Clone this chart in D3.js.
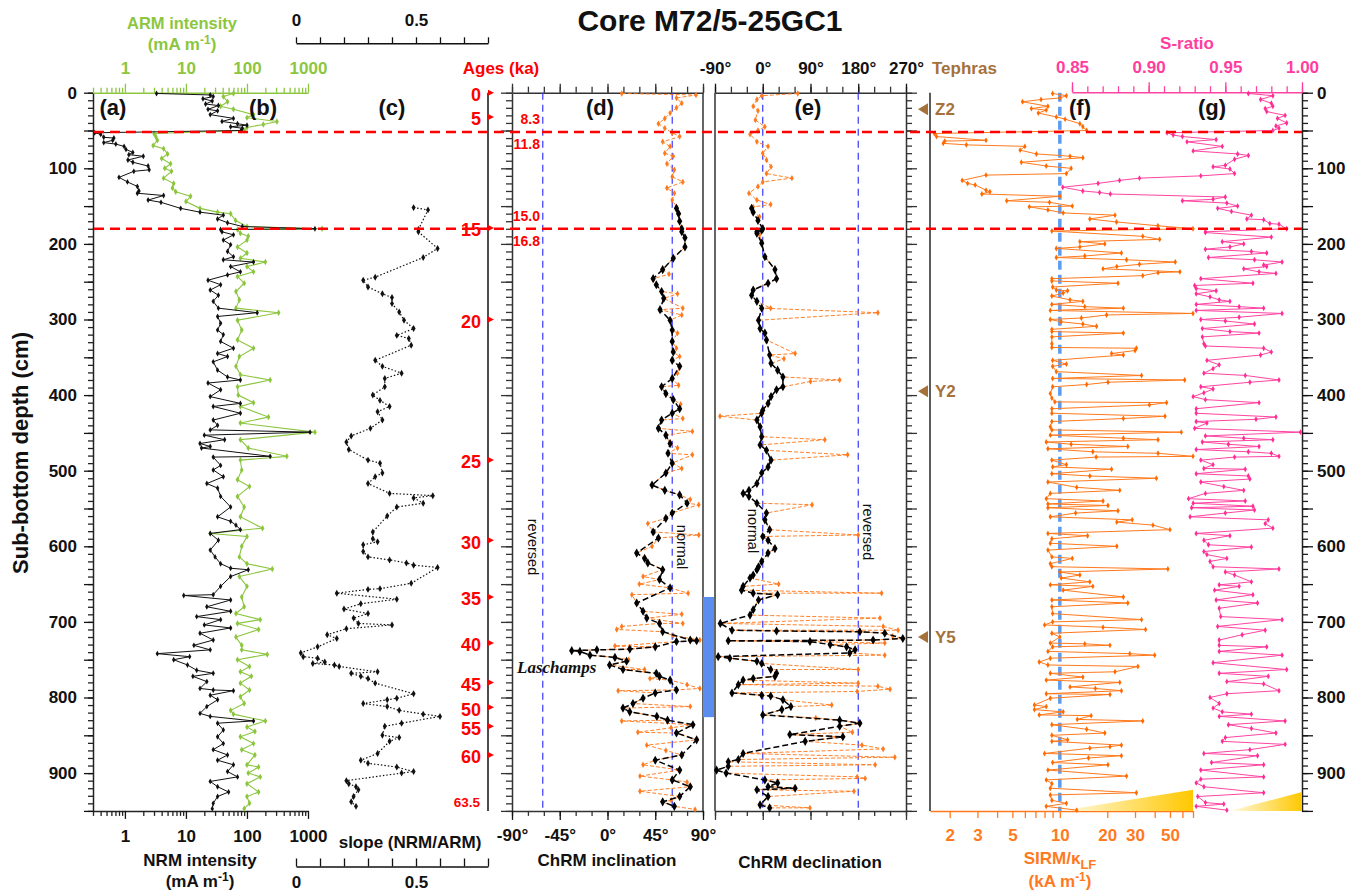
<!DOCTYPE html>
<html><head><meta charset="utf-8">
<script src="https://cdn.jsdelivr.net/npm/d3@7"></script>
<style>body{margin:0;background:#fff}</style>
</head><body>
<svg id="chart" width="1360" height="892"></svg>
<script>
// ---------------- DATA (depth cm, value) ----------------
const depthTicks = [0,100,200,300,400,500,600,700,800,900];
const abTicks = [1,10,100,1000];
const slopeTicks = [0,0.5];
const incTicks = [-90,-45,0,45,90];
const decTicks = [-90,0,90,180,270];
const sirmTicks = [2,3,5,10,20,30,50];
const sratioTicks = [0.85,0.90,0.95,1.00];
const ageLabels = [0,5,15,20,25,30,35,40,45,50,55,60];
const ageDepths = [0,32,179,300,486,592,667,728,780,813,838,876];
const boundaryDepths = [52,180];
const boundaryAgeAbove = ["8.3","15.0"];
const boundaryAgeBelow = ["11.8","16.8"];
const tephraNames = ["Z2","Y2","Y5"];
const tephraDepths = [22,395,720];
const laschampsRange = [667,826];
const gadInc = [-61,61];
const gadDec = [0,180];

const nrm = [[1,3.3],[3,25],[5,28],[8,19],[11,27],[15,21],[17,34],[22,23],[24,33],[29,25],[34,60],[38,39],[41,70],[43,100],[45,54],[47,84],[50,80],[53,0.32],[55,0.4],[59,0.45],[60,0.66],[63,0.63],[66,0.45],[68,0.71],[71,0.97],[75,1.04],[79,1.35],[82,1.16],[84,2.0],[89,1.12],[92,1.35],[97,2.4],[102,2.5],[104,1.4],[112,0.8],[118,1.1],[124,1.6],[130,1.7],[133,1.6],[136,4.3],[142,2.4],[145,3.9],[153,8.2],[158,17],[162,41],[167,33],[172,48],[177,84],[180,1300],[181,37],[184,39],[188,60],[195,41],[201,54],[210,48],[217,60],[221,41],[224,128],[230,54],[237,78],[241,48],[248,23],[254,37],[261,25],[268,34],[276,28],[285,34],[291,147],[296,33],[305,37],[314,33],[320,41],[329,37],[338,60],[345,33],[349,48],[356,28],[367,33],[376,48],[380,78],[384,23],[393,37],[402,25],[411,78],[415,28],[424,78],[433,28],[440,33],[446,25],[449,1080],[453,20],[459,43],[464,17],[468,25],[470,18],[481,240],[482,28],[493,37],[499,28],[508,41],[517,22],[523,33],[534,37],[548,54],[561,33],[567,54],[572,66],[578,78],[583,25],[592,34],[605,25],[614,30],[623,37],[629,54],[631,105],[640,54],[653,37],[664,28],[665,9.2],[671,54],[680,22],[686,54],[693,15],[697,37],[704,20],[708,54],[715,17],[724,28],[731,13.5],[737,25],[742,3.4],[746,11.5],[750,6.3],[757,10.6],[764,15],[768,28],[772,13],[779,22],[788,17],[790,28],[791,60],[797,25],[803,33],[812,22],[821,17],[825,25],[831,128],[834,33],[843,41],[852,33],[861,41],[869,28],[876,48],[883,33],[889,60],[898,48],[905,70],[911,25],[918,33],[925,50],[931,33],[940,28],[947,27]];

const arm = [[1,60],[5,41],[12,48],[18,37],[22,60],[29,128],[33,100],[38,310],[42,185],[46,100],[50,90],[54,3.0],[58,3.2],[63,3.4],[70,2.9],[74,4.3],[81,5.0],[87,4.0],[94,5.6],[100,4.5],[104,5.8],[113,4.3],[120,6.3],[126,6.0],[131,6.8],[137,11.9],[144,10],[153,17],[158,33],[160,54],[169,65],[177,100],[180,1700],[181,70],[186,78],[190,105],[195,100],[204,70],[212,100],[219,78],[224,200],[230,100],[237,128],[243,70],[252,90],[263,66],[274,75],[285,66],[291,330],[301,70],[314,82],[327,70],[338,128],[349,75],[362,66],[373,78],[380,240],[389,70],[400,72],[410,128],[415,78],[429,225],[437,78],[449,1300],[459,78],[470,105],[481,450],[486,78],[499,82],[512,70],[521,110],[534,70],[548,90],[561,78],[576,180],[583,25],[587,100],[600,82],[614,75],[623,100],[630,260],[640,75],[653,100],[667,82],[680,90],[689,66],[697,165],[702,70],[710,155],[720,66],[731,82],[737,82],[743,215],[750,70],[759,110],[766,78],[772,118],[781,78],[790,110],[799,78],[808,90],[817,54],[822,60],[831,200],[839,100],[845,135],[852,78],[861,128],[869,82],[876,135],[889,100],[892,155],[900,105],[905,165],[914,100],[925,155],[931,100],[940,110],[947,90]];

const slope = [[152,0.49],[155,0.55],[181,0.51],[184,0.51],[206,0.59],[218,0.53],[244,0.33],[248,0.28],[257,0.30],[266,0.36],[271,0.40],[279,0.40],[290,0.43],[301,0.45],[312,0.49],[321,0.42],[325,0.47],[334,0.48],[354,0.33],[362,0.36],[371,0.44],[378,0.37],[389,0.37],[400,0.32],[407,0.35],[415,0.39],[422,0.34],[433,0.36],[444,0.31],[454,0.23],[462,0.21],[472,0.22],[486,0.30],[490,0.35],[503,0.36],[508,0.33],[517,0.30],[530,0.39],[533,0.57],[536,0.49],[543,0.53],[548,0.42],[560,0.38],[581,0.32],[590,0.32],[594,0.34],[598,0.28],[607,0.28],[614,0.30],[618,0.39],[622,0.46],[625,0.49],[628,0.59],[649,0.48],[656,0.35],[657,0.30],[662,0.17],[670,0.42],[676,0.27],[683,0.20],[689,0.30],[695,0.24],[702,0.26],[704,0.40],[709,0.21],[717,0.13],[722,0.17],[733,0.09],[741,0.02],[746,0.03],[748,0.09],[753,0.12],[755,0.07],[757,0.16],[759,0.18],[766,0.34],[768,0.23],[772,0.27],[775,0.30],[781,0.33],[795,0.49],[801,0.42],[803,0.38],[808,0.28],[812,0.38],[817,0.43],[822,0.53],[825,0.60],[834,0.44],[838,0.37],[850,0.36],[853,0.43],[858,0.39],[874,0.34],[883,0.27],[887,0.30],[892,0.42],[898,0.49],[900,0.44],[910,0.21],[914,0.22],[918,0.25],[922,0.26],[931,0.24],[938,0.23],[944,0.25]];

const incSelected = [[153,65],[160,67],[170,68],[180,70],[184,70],[192,73],[204,73],[219,62],[234,52],[246,43],[254,46],[263,51],[272,53],[287,49.5],[301,59],[314,61],[329,61],[343,62],[354,61],[362,68],[378,61],[389,51],[398,55],[406,62],[418,68],[424,61],[433,51],[444,48],[453,55],[464,59],[477,57],[490,61],[503,55],[519,42],[526,54],[532,68],[543,75],[556,61],[563,55],[581,43],[589,48],[609,27.5],[616,35],[622,38],[631,52],[644,49],[655,59],[675,27.5],[686,33.5],[695,37],[702,49],[713,52],[724,78],[725,84],[726,65],[733,45],[736,21],[737,-10],[738,-33.7],[739,-26],[744,-16.5],[747,7],[752,18],[757,2],[763,14.6],[768,46],[772,49],[777,59],[790,65],[794,45],[801,33.5],[808,24],[814,14.6],[819,21],[825,46.5],[830,56.6],[836,80.5],[847,65],[856,84],[876,70],[883,45],[896,68],[909,61],[918,78],[931,68],[938,52],[944,63]];
const incOther = [[1,13.4],[3,83.4],[7,65],[14,70],[20,65],[27,59],[34,54],[41,48],[47,54],[53,61],[58,68],[65,52],[71,59],[80,54],[84,62],[94,56],[102,63],[111,61],[118,71],[126,56],[133,63],[142,61],[151,65],[240,58],[266,66],[285,71],[294,70],[318,66],[338,65],[349,68],[371,66],[387,67],[412,69],[431,71],[448,80],[470,66],[479,80],[497,70],[538,78],[545,86],[570,38],[585,86],[600,42],[640,33.5],[650,30],[662,76],[664,23],[690,70],[702,71],[706,13.4],[710,8.7],[718,62],[724,87],[732,7],[750,20],[763,35],[775,40],[783,75],[788,87],[791,10],[812,78],[831,13.4],[840,60],[846,28.6],[863,37],[870,55],[889,33.5],[904,30.6],[912,75],[924,30.6],[936,60],[948,82.5]];

const decSelected = [[153,-21],[158,-18],[169,-9],[180,0],[182,-2],[184,-11],[186,-11],[199,-2],[217,4],[234,23],[246,26],[252,10],[261,-18],[268,-21],[276,-11],[285,-2],[301,-8],[312,-5],[318,4],[327,7],[347,13],[358,15.6],[367,28],[376,38],[389,38],[393,26],[402,15.6],[411,10],[420,0],[424,-2],[433,-11],[442,-5],[455,-2],[466,-5],[473,7],[486,15.6],[495,10],[503,-2],[517,-11],[526,-26],[530,-37],[534,-26],[543,-11],[556,7],[565,4],[578,13],[587,0],[592,10],[603,23],[609,10],[620,-2],[627,-8],[631,-11],[638,-18],[642,-24],[653,-37],[658,-40],[662,-18],[664,28],[671,-8],[684,-18],[691,-24],[702,-80],[711,-58],[712,26],[713,183],[715,230],[722,264],[724,208],[725,-65],[726,89],[730,127],[733,158],[737,174],[741,164],[746,-84],[748,-62],[752,-11],[755,-2],[763,15],[768,26],[772,23],[775,-18],[777,-37],[783,-46],[794,-58],[797,-2],[798,15],[803,38],[812,53],[816,36],[823,0],[830,145],[834,183],[838,145],[849,51],[852,151],[858,80],[874,-37],[882,-46],[885,-65],[891,-65],[896,-87],[900,-69],[909,4],[913,28],[918,10],[920,61],[922,-11],[931,10],[942,-5],[946,13]];
const decOther = [[1,66],[4,-2],[9,-11],[18,-18],[24,-9],[36,-14],[45,4],[50,-9],[55,-24],[65,-11],[71,10],[80,0],[89,7],[98,15.6],[107,7],[113,55],[118,0],[124,-9],[133,-26],[142,-11],[148,15],[151,-18],[164,-6],[188,-6],[285,15],[291,217],[345,61],[352,40],[380,145],[382,90],[428,-80.6],[459,117],[479,160],[545,93],[585,180],[650,30],[662,224],[695,221],[706,227],[711,255],[719,245],[728,230],[744,230],[763,180],[781,180],[785,217],[789,240],[792,178],[810,130],[827,100],[846,169],[863,187],[868,227],[879,249],[889,212],[905,178],[907,193],[924,172],[946,89]];

const sirm = [[1,9.0],[4,11],[7,10],[9,7.6],[12,5.8],[18,8.4],[21,6.6],[23,8.2],[27,7.3],[32,9.5],[35,10.8],[41,13.4],[45,14],[50,14.8],[54,1.6],[58,1.65],[63,3.4],[64,1.86],[67,1.82],[69,2.55],[71,6.0],[76,5.6],[81,7.1],[84,11.6],[86,14],[92,5.7],[97,8.2],[100,11.8],[107,11],[109,3.4],[116,2.4],[120,2.6],[122,2.9],[129,3.4],[131,3.6],[134,3.2],[137,10],[143,4.6],[145,8.6],[150,12],[151,6.4],[155,8.4],[159,10.5],[162,22.4],[167,15.5],[171,22.9],[176,41.9],[180,70],[183,8.9],[190,33.6],[194,43],[197,13.4],[200,19.3],[204,13.4],[206,9.5],[212,24.6],[216,14.4],[218,9.5],[221,26.5],[224,54],[227,32],[230,23],[233,18.8],[237,57.8],[238,42],[242,33.6],[246,8.9],[249,8.9],[252,23.4],[257,9.0],[261,9.5],[262,11.2],[265,10.5],[269,8.9],[274,11.6],[276,14],[280,8.9],[283,14.4],[285,25.3],[288,8.7],[292,70],[294,19.8],[298,13.7],[300,8.7],[303,10.2],[306,14],[309,17.1],[313,8.9],[316,8.9],[318,25.3],[323,8.9],[332,8.9],[337,8.9],[338,30.6],[341,30],[345,21.3],[347,25.3],[354,9.0],[359,11],[362,9],[369,9.5],[374,33],[378,9.0],[380,62],[383,20.2],[386,14.8],[389,9],[398,8.7],[404,8.9],[409,9.3],[410,47.6],[413,37],[418,8.9],[424,8.9],[428,46.5],[431,25.3],[435,8.9],[442,8.7],[446,8.9],[449,59],[453,8.7],[457,25.3],[459,42],[462,8.2],[465,11.8],[468,27],[471,8.4],[475,16.2],[477,42],[481,70],[482,17],[486,8.9],[492,11],[495,9],[498,21.3],[504,8.9],[507,15.5],[510,41],[515,8.4],[522,12.8],[526,24],[530,8.7],[537,8.2],[540,18.8],[544,8.4],[546,20.2],[549,8.4],[553,23.4],[556,12.6],[561,8.7],[565,28.8],[568,23],[572,39],[578,50],[583,8.4],[586,15],[590,8.9],[596,8.7],[600,23],[605,8.4],[614,8.9],[616,12],[623,8.7],[627,8.9],[630,48.5],[634,10],[638,13.4],[642,10.2],[647,15.5],[651,8.7],[653,16.2],[658,10.5],[667,25.3],[671,8.9],[675,27],[680,8.9],[689,9],[697,33],[700,9],[704,8.0],[707,18.8],[710,35],[715,8.9],[720,10],[728,8.7],[729,14.4],[731,20.8],[733,9],[739,8.4],[742,27.8],[744,40],[748,8.7],[753,7.4],[757,8.4],[759,31.3],[766,22.4],[768,8.7],[773,14],[777,8.2],[780,24],[786,11.6],[788,16.8],[791,24.6],[795,8.2],[796,20.8],[801,8.7],[810,6.9],[812,8.2],[816,6.9],[819,10.5],[823,7.4],[824,15.8],[829,12.9],[831,33.6],[836,8.9],[842,14.8],[847,19.3],[850,8.9],[856,11.2],[858,8.9],[863,24.6],[865,20.8],[867,15.5],[874,8.0],[877,24.6],[880,15.2],[886,9],[889,20.2],[896,8.4],[904,26.5],[909,8.2],[914,8.9],[920,8.7],[926,30.6],[929,8.7],[936,8.9],[940,11],[944,8.2],[949,12.8]];

const sratio = [[1,0.965],[4,0.981],[9,0.973],[14,0.980],[18,0.981],[21,0.976],[25,0.977],[30,0.989],[34,0.984],[40,0.990],[44,0.983],[47,0.985],[50,0.981],[53,0.912],[56,0.916],[58,0.922],[62,0.944],[65,0.925],[71,0.948],[77,0.929],[81,0.958],[83,0.965],[88,0.956],[96,0.950],[98,0.942],[101,0.953],[107,0.956],[110,0.934],[113,0.894],[116,0.881],[120,0.867],[125,0.844],[130,0.857],[132,0.868],[134,0.875],[138,0.950],[141,0.942],[143,0.922],[146,0.951],[150,0.958],[153,0.945],[157,0.954],[162,0.967],[167,0.964],[168,0.975],[173,0.979],[174,0.985],[180,0.990],[184,0.937],[185,0.937],[191,0.980],[197,0.948],[200,0.962],[204,0.953],[207,0.937],[210,0.967],[212,0.977],[218,0.939],[221,0.969],[224,0.987],[228,0.975],[230,0.977],[233,0.962],[237,0.972],[239,0.983],[246,0.934],[252,0.968],[255,0.930],[259,0.931],[262,0.944],[266,0.931],[270,0.940],[274,0.946],[276,0.953],[280,0.931],[283,0.959],[285,0.975],[288,0.931],[292,0.987],[297,0.959],[300,0.934],[302,0.950],[306,0.969],[312,0.935],[316,0.953],[318,0.972],[323,0.935],[332,0.936],[335,0.937],[338,0.975],[343,0.980],[347,0.973],[354,0.938],[360,0.946],[365,0.942],[371,0.936],[374,0.963],[380,0.985],[383,0.966],[389,0.934],[392,0.942],[397,0.936],[402,0.929],[406,0.937],[410,0.972],[418,0.931],[424,0.931],[429,0.983],[432,0.970],[435,0.931],[437,0.938],[444,0.930],[449,0.999],[454,0.937],[457,0.962],[459,0.981],[462,0.935],[465,0.952],[468,0.972],[472,0.931],[475,0.965],[477,0.980],[481,0.985],[482,0.956],[486,0.934],[492,0.942],[497,0.936],[498,0.963],[504,0.931],[507,0.965],[511,0.966],[515,0.934],[521,0.949],[526,0.962],[530,0.937],[537,0.926],[540,0.963],[543,0.929],[547,0.968],[549,0.928],[552,0.969],[556,0.950],[561,0.927],[565,0.978],[570,0.976],[576,0.981],[583,0.931],[586,0.953],[592,0.936],[598,0.939],[601,0.967],[607,0.936],[611,0.938],[616,0.951],[620,0.940],[627,0.942],[630,0.985],[634,0.950],[638,0.956],[647,0.967],[651,0.946],[653,0.959],[658,0.943],[664,0.968],[671,0.944],[675,0.971],[682,0.946],[693,0.947],[697,0.987],[706,0.945],[711,0.976],[717,0.961],[724,0.946],[731,0.946],[733,0.977],[739,0.946],[744,0.987],[754,0.942],[763,0.990],[768,0.946],[772,0.978],[779,0.951],[782,0.975],[791,0.985],[795,0.951],[800,0.940],[808,0.946],[814,0.942],[819,0.948],[822,0.967],[825,0.946],[831,0.989],[836,0.952],[841,0.967],[847,0.983],[853,0.950],[858,0.948],[862,0.989],[869,0.966],[874,0.936],[877,0.971],[886,0.941],[889,0.975],[896,0.934],[905,0.975],[908,0.934],[913,0.931],[918,0.936],[926,0.975],[931,0.932],[939,0.937],[941,0.949],[944,0.931],[949,0.951]];

// gradient wedges at the base of (f) and (g): [left value, right value, top depth]
const wedgeF = [10,70,922];
const wedgeG = [0.953,1.0,925];

// ---------------- DRAWING ----------------
const FONT = '"Liberation Sans", Arial, Helvetica, sans-serif';
const C = {green:"#8cc63f", orange:"#ff7a1e", pink:"#ff45a2", pinkText:"#ff3d9e", red:"#ff0000", brown:"#a5713b", blue:"#3838ff", bar:"#5b8def", blueF:"#5b9cf2"};
const svg = d3.select("#chart").attr("font-family", FONT);

const y = d3.scaleLinear([0,950],[92.7,810.9]);
const xAB = d3.scaleLog([0.3,1000],[93,308]);
const xSlope = d3.scaleLinear([0,0.8],[296,488]);
const xInc = d3.scaleLinear([-90,90],[512,703]);
const xDec = d3.scaleLinear([-90,270],[715,906]);
const xSirm = d3.scaleLog([1.5,70],[930,1193]);
const xS = d3.scaleLinear([0.85,1.0],[1072,1302]);

const defs = svg.append("defs");
const grad = defs.append("linearGradient").attr("id","gold").attr("x1","0").attr("x2","1").attr("y1","0").attr("y2","0");
grad.append("stop").attr("offset","0%").attr("stop-color","#fffbe6");
grad.append("stop").attr("offset","100%").attr("stop-color","#ffc800");

function styleAxis(g, color, size, sw) {
  g.attr("font-family", FONT).attr("font-size", size || 17).attr("font-weight","bold");
  g.selectAll("path.domain").attr("stroke", color).attr("stroke-width", sw || 1.5);
  g.selectAll(".tick line").attr("stroke", color).attr("stroke-width", 1.3);
  g.selectAll(".tick text").attr("fill", color);
  return g;
}
function axisAt(axis, tx, ty, color, opts) {
  const g = svg.append("g").attr("transform", `translate(${tx},${ty})`).call(axis);
  styleAxis(g, color, opts && opts.size, opts && opts.sw);
  if (opts && opts.noDomain) g.select("path.domain").remove();
  return g;
}
const logMinor = (lo, hi) => { const r=[]; for (let e=-1;e<=3;e++) for (let m=1;m<10;m++){ const v=m*Math.pow(10,e); if (v>=lo-1e-9 && v<=hi+1e-9) r.push(+v.toPrecision(3)); } return r; };

// -------- depth axes --------
const minorDepth = d3.range(0,951,10), majorDepth = d3.range(0,951,50);
axisAt(d3.axisLeft(y).tickValues(minorDepth).tickSize(5).tickFormat("").tickSizeOuter(0), 93, 0, "#222");
axisAt(d3.axisLeft(y).tickValues(majorDepth).tickSize(9).tickPadding(7).tickSizeOuter(0)
  .tickFormat(d => depthTicks.includes(d) ? d : ""), 93, 0, "#111", {noDomain:true});
axisAt(d3.axisRight(y).tickValues(minorDepth).tickSize(6).tickFormat("").tickSizeOuter(0), 1302, 0, "#222");
axisAt(d3.axisRight(y).tickValues(majorDepth).tickSize(11).tickPadding(4).tickSizeOuter(0)
  .tickFormat(d => depthTicks.includes(d) ? d : ""), 1302, 0, "#111", {noDomain:true});
// panel d left ticks & panel e right ticks
axisAt(d3.axisLeft(y).tickValues(minorDepth).tickSize(6).tickFormat("").tickSizeOuter(0), 512, 0, "#333");
axisAt(d3.axisLeft(y).tickValues(majorDepth).tickSize(11).tickFormat("").tickSizeOuter(0), 512, 0, "#333", {noDomain:true});
axisAt(d3.axisRight(y).tickValues(minorDepth).tickSize(6).tickFormat("").tickSizeOuter(0), 906, 0, "#333");
axisAt(d3.axisRight(y).tickValues(majorDepth).tickSize(11).tickFormat("").tickSizeOuter(0), 906, 0, "#333", {noDomain:true});

// -------- (a)/(b) log axes --------
const abMinor = logMinor(0.3,1000);
axisAt(d3.axisTop(xAB).tickValues(abMinor.filter(v=>!abTicks.includes(v))).tickSize(5).tickFormat("").tickSizeOuter(0), 0, 92.7, C.green);
axisAt(d3.axisTop(xAB).tickValues(abTicks).tickSize(9).tickPadding(10).tickFormat(d3.format("d")).tickSizeOuter(0), 0, 92.7, C.green, {noDomain:true});
axisAt(d3.axisBottom(xAB).tickValues(abMinor.filter(v=>!abTicks.includes(v))).tickSize(5).tickFormat("").tickSizeOuter(0), 0, 810.9, "#222");
axisAt(d3.axisBottom(xAB).tickValues(abTicks).tickSize(8).tickPadding(11).tickFormat(d3.format("d")).tickSizeOuter(0), 0, 810.9, "#111", {noDomain:true});

// -------- (c) slope axes --------
const slopeAll = d3.range(0,0.81,0.1).map(v=>+v.toFixed(1));
axisAt(d3.axisTop(xSlope).tickValues(slopeAll).tickSize(6).tickPadding(11)
  .tickFormat(d => slopeTicks.includes(d) ? d3.format("")(d) : "").tickSizeOuter(0), 0, 43.3, "#111");
axisAt(d3.axisBottom(xSlope).tickValues(slopeAll).tickSize(-8).tickPadding(9)
  .tickFormat(d => slopeTicks.includes(d) ? d3.format("")(d) : "").tickSizeOuter(0), 0, 866.5, "#111");

// -------- (d) inclination frame --------
const incMinor = d3.range(-90,91,15);
axisAt(d3.axisTop(xInc).tickValues(incMinor).tickSize(6).tickFormat("").tickSizeOuter(0), 0, 92.7, "#333");
axisAt(d3.axisTop(xInc).tickValues(incTicks).tickSize(9).tickFormat("").tickSizeOuter(0), 0, 92.7, "#333", {noDomain:true});
axisAt(d3.axisBottom(xInc).tickValues(incMinor).tickSize(5).tickFormat("").tickSizeOuter(0), 0, 810.9, "#333");
axisAt(d3.axisBottom(xInc).tickValues(incTicks).tickSize(9).tickPadding(9).tickFormat(d => d + "°").tickSizeOuter(0), 0, 810.9, "#111", {noDomain:true});
svg.append("line").attr("x1",xInc(90)).attr("x2",xInc(90)).attr("y1",y(0)).attr("y2",y(950)).attr("stroke","#333").attr("stroke-width",1.5);

// -------- (e) declination frame --------
const decMinor = d3.range(-90,271,30);
axisAt(d3.axisTop(xDec).tickValues(decMinor).tickSize(6).tickFormat("").tickSizeOuter(0), 0, 92.7, "#333");
axisAt(d3.axisTop(xDec).tickValues(decTicks).tickSize(9).tickPadding(10).tickFormat(d => d + "°").tickSizeOuter(0), 0, 92.7, "#111", {noDomain:true});
axisAt(d3.axisBottom(xDec).tickValues(decMinor).tickSize(5).tickFormat("").tickSizeOuter(0), 0, 810.9, "#333");
axisAt(d3.axisBottom(xDec).tickValues(decTicks).tickSize(9).tickFormat("").tickSizeOuter(0), 0, 810.9, "#333", {noDomain:true});
svg.append("line").attr("x1",xDec(-90)).attr("x2",xDec(-90)).attr("y1",y(0)).attr("y2",y(950)).attr("stroke","#333").attr("stroke-width",1.5);

// -------- (f) SIRM axis --------
const sirmMinor = logMinor(1.5,70).filter(v=>v>=2);
axisAt(d3.axisBottom(xSirm).tickValues(sirmMinor).tickSize(7).tickPadding(11).tickSizeOuter(0)
  .tickFormat(d => sirmTicks.includes(d) ? d3.format("d")(d) : ""), 0, 810.9, C.orange);
// tephra axis
svg.append("line").attr("x1",930).attr("x2",930).attr("y1",y(0)).attr("y2",y(950)).attr("stroke","#333").attr("stroke-width",1.6);

// -------- (g) S-ratio axis --------
const sMinor = d3.range(0.85,1.0001,0.01).map(v=>+v.toFixed(2));
axisAt(d3.axisTop(xS).tickValues(sMinor).tickSize(6).tickFormat("").tickSizeOuter(0), 0, 92.2, C.pink);
axisAt(d3.axisTop(xS).tickValues(sratioTicks).tickSize(10).tickPadding(9).tickFormat(d3.format(".2f")).tickSizeOuter(0), 0, 92.2, C.pinkText, {noDomain:true});

// -------- ages axis --------
svg.append("line").attr("x1",488).attr("x2",488).attr("y1",y(0)).attr("y2",y(950)).attr("stroke","#111").attr("stroke-width",1.5);
const ageG = svg.append("g");
ageLabels.forEach((a,i) => {
  const yy = y(ageDepths[i]);
  ageG.append("path").attr("d",`M488,${yy-3}L494,${yy}L488,${yy+3}Z`).attr("fill",C.red);
  ageG.append("text").attr("x",481).attr("y",yy+2).attr("dy","0.35em").attr("text-anchor","end")
    .attr("font-size",18).attr("font-weight","bold").attr("fill",C.red).text(a);
});
ageG.append("text").attr("x",480).attr("y",y(938)).attr("dy","0.35em").attr("text-anchor","end")
  .attr("font-size",13.5).attr("font-weight","bold").attr("fill",C.red).text("63.5");

// -------- reference lines --------
gadInc.forEach(v => svg.append("line").attr("x1",xInc(v)).attr("x2",xInc(v)).attr("y1",y(0)).attr("y2",y(950))
  .attr("stroke",C.blue).attr("stroke-width",1.2).attr("stroke-dasharray","7,5"));
gadDec.forEach(v => svg.append("line").attr("x1",xDec(v)).attr("x2",xDec(v)).attr("y1",y(0)).attr("y2",y(950))
  .attr("stroke",C.blue).attr("stroke-width",1.2).attr("stroke-dasharray","7,5"));
svg.append("line").attr("x1",xSirm(10)).attr("x2",xSirm(10)).attr("y1",y(0)).attr("y2",y(950))
  .attr("stroke",C.blueF).attr("stroke-width",3.5).attr("stroke-dasharray","9,5");
svg.append("rect").attr("x",xInc(90)).attr("width",xDec(-90)-xInc(90)-1).attr("y",y(laschampsRange[0]))
  .attr("height",y(laschampsRange[1])-y(laschampsRange[0])).attr("fill",C.bar);

// wedges
function wedge(sc, w) {
  svg.append("path").attr("d",`M${sc(w[0])},${y(950)}L${sc(w[1])},${y(950)}L${sc(w[1])},${y(w[2])}Z`).attr("fill","url(#gold)");
}
wedge(xSirm, wedgeF); wedge(xS, wedgeG);

// -------- series --------
function series(data, xs, color, o) {
  const g = svg.append("g");
  g.append("path").datum(data).attr("fill","none").attr("stroke",color).attr("stroke-width",o.lw||1)
    .attr("stroke-dasharray",o.dash||null).attr("opacity",o.op||1)
    .attr("d", d3.line().x(d=>xs(d[1])).y(d=>y(d[0])));
  const sym = d3.symbol(d3.symbolDiamond, o.ms||10);
  g.selectAll("path.m").data(data).join("path").attr("class","m")
    .attr("transform",d=>`translate(${xs(d[1])},${y(d[0])})`).attr("d",sym).attr("fill",o.mc||color);
}
const byDepth = (a,b) => a[0]-b[0];
series(arm, xAB, C.green, {lw:1.1, ms:12});
series(nrm, xAB, "#111", {lw:1, ms:10});
series(slope, xSlope, "#111", {lw:1.2, dash:"1.5,2", ms:14});
series(incOther.concat(incSelected).sort(byDepth), xInc, C.orange, {lw:1, dash:"4,2", ms:12, op:0.95});
series(incSelected, xInc, "#000", {lw:1.5, dash:"6,3", ms:24});
series(decOther.concat(decSelected).sort(byDepth), xDec, C.orange, {lw:1, dash:"4,2", ms:12, op:0.95});
series(decSelected, xDec, "#000", {lw:1.5, dash:"6,3", ms:24});
series(sirm, xSirm, C.orange, {lw:1, ms:10, mc:"#ff6a00"});
series(sratio, xS, C.pink, {lw:1, ms:10, mc:"#ff2d95"});

// -------- boundaries (red dashed) --------
boundaryDepths.forEach((d,i) => {
  svg.append("line").attr("x1",94).attr("x2",1302).attr("y1",y(d)).attr("y2",y(d))
    .attr("stroke",C.red).attr("stroke-width",2.5).attr("stroke-dasharray","10,6");
  svg.append("text").attr("x",540).attr("y",y(d)-8).attr("text-anchor","end").attr("font-size",14)
    .attr("font-weight","bold").attr("fill",C.red).text(boundaryAgeAbove[i]);
  svg.append("text").attr("x",540).attr("y",y(d)+17).attr("text-anchor","end").attr("font-size",14)
    .attr("font-weight","bold").attr("fill",C.red).text(boundaryAgeBelow[i]);
});

// -------- tephras --------
tephraNames.forEach((n,i) => {
  const yy = y(tephraDepths[i]);
  svg.append("path").attr("d",`M918,${yy}L928,${yy-6}L928,${yy+6}Z`).attr("fill",C.brown);
  svg.append("text").attr("x",935).attr("y",yy).attr("dy","0.35em").attr("font-size",17).attr("font-weight","bold")
    .attr("fill",C.brown).text(n);
});

// -------- text --------
function txt(x, yy, s, o) {
  const t = svg.append("text").attr("x",x).attr("y",yy).attr("dy","0.35em")
    .attr("text-anchor",o.anchor||"middle").attr("font-size",o.size||17).attr("font-weight",o.weight||"bold")
    .attr("fill",o.color||"#111");
  if (o.family) t.attr("font-family",o.family);
  if (o.style) t.attr("font-style",o.style);
  if (o.rotate) t.attr("transform",`rotate(${o.rotate},${x},${yy})`);
  if (s) t.text(s);
  return t;
}
function unitText(x, yy, pre, sup, post, color) {
  const t = txt(x, yy, null, {color});
  t.append("tspan").text(pre);
  t.append("tspan").attr("dy",-6).attr("font-size",12).text(sup);
  t.append("tspan").attr("dy",6).text(post);
}
txt(710, 20, "Core M72/5-25GC1", {size:30});
txt(182, 23, "ARM intensity", {color:C.green, size:16.5});
unitText(182, 44, "(mA m", "-1", ")", C.green);
txt(501, 68, "Ages (ka)", {color:C.red});
txt(932, 68, "Tephras", {color:C.brown, anchor:"start"});
txt(1187, 43, "S-ratio", {color:C.pinkText});
txt(200, 860, "NRM intensity", {});
unitText(200, 881, "(mA m", "-1", ")", "#111");
txt(410, 842, "slope (NRM/ARM)", {});
txt(607, 860, "ChRM inclination", {});
txt(810, 862, "ChRM declination", {});
const sl = txt(1060, 858, null, {color:C.orange});
sl.append("tspan").text("SIRM/κ");
sl.append("tspan").attr("dy",5).attr("font-size",13).text("LF");
unitText(1060, 881, "(kA m", "-1", ")", C.orange);
txt(20, 453, "Sub-bottom depth (cm)", {size:22, rotate:-90});
[["(a)",113],["(b)",263],["(c)",392],["(d)",600],["(e)",808],["(f)",1080],["(g)",1212]]
  .forEach(p => txt(p[1], 107, p[0], {size:22}));
txt(517, 667, "Laschamps", {anchor:"start", family:'"Liberation Serif","Times New Roman",serif', style:"italic", size:17});
txt(533, 547, "reversed", {weight:"normal", size:14.5, rotate:90});
txt(682, 547, "normal", {weight:"normal", size:14.5, rotate:90});
txt(753, 531, "normal", {weight:"normal", size:14.5, rotate:90});
txt(868, 532, "reversed", {weight:"normal", size:14.5, rotate:90});
</script>
</body></html>
